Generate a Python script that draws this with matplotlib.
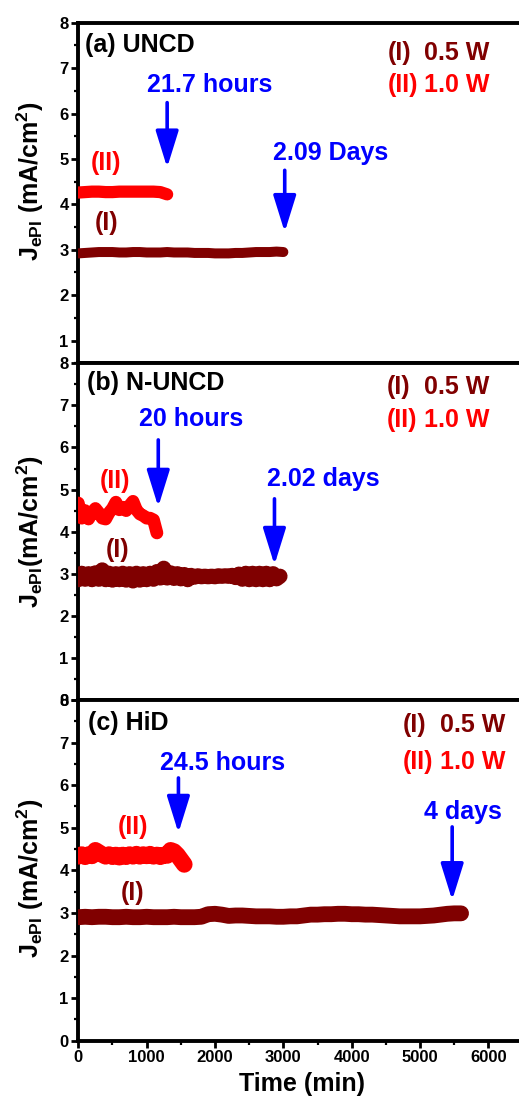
import numpy as np
import matplotlib
matplotlib.use("Agg")
import matplotlib.pyplot as plt
from matplotlib.ticker import MultipleLocator

plt.rcParams['font.family'] = ['Liberation Sans', 'DejaVu Sans']
plt.rcParams['font.weight'] = 'bold'
plt.rcParams['mathtext.fontset'] = 'custom'
plt.rcParams['mathtext.rm'] = 'Liberation Sans:bold'
plt.rcParams['mathtext.it'] = 'Liberation Sans:bold'
plt.rcParams['mathtext.bf'] = 'Liberation Sans:bold'

# ---- data: emission current density J_ePI (mA/cm^2) versus time (min) ----
# (a) UNCD
uncd_t_low = np.arange(0, 3001, 100)
uncd_j_low = [2.92, 2.93, 2.94, 2.95, 2.95, 2.95, 2.94, 2.94, 2.95, 2.95, 2.94,
              2.94, 2.94, 2.95, 2.94, 2.94, 2.94, 2.93, 2.93, 2.93, 2.92, 2.92,
              2.92, 2.93, 2.93, 2.94, 2.95, 2.95, 2.95, 2.96, 2.95]
uncd_t_high = np.arange(0, 1301, 100)
uncd_j_high = [4.26, 4.27, 4.28, 4.28, 4.27, 4.27, 4.28, 4.28, 4.28, 4.28, 4.28,
               4.28, 4.27, 4.22]

# (b) N-UNCD
nuncd_t_low = np.arange(0, 2951, 50)
nuncd_j_low = [2.86, 3.01, 2.87, 3.00, 2.86, 3.02, 2.87, 3.09, 2.86, 3.01, 2.85,
               3.00, 2.86, 3.01, 2.85, 3.00, 2.83, 3.01, 2.85, 3.00, 2.86, 3.01,
               2.87, 3.05, 2.90, 3.13, 2.90, 3.02, 2.89, 3.00, 2.88, 2.98, 2.86,
               2.96, 2.92, 2.95, 2.93, 2.94, 2.93, 2.94, 2.93, 2.95, 2.94, 2.95,
               2.94, 2.96, 2.91, 2.99, 2.87, 3.01, 2.86, 3.01, 2.86, 3.01, 2.86,
               3.01, 2.86, 3.00, 2.88, 2.94]
nuncd_t_high = np.arange(0, 1151, 50)
nuncd_j_high = [4.68, 4.32, 4.50, 4.30, 4.45, 4.55, 4.45, 4.32, 4.30, 4.45, 4.55,
                4.70, 4.52, 4.58, 4.50, 4.62, 4.72, 4.52, 4.42, 4.38, 4.32, 4.32,
                4.28, 3.97]

# (c) HiD
hid_t_low = np.arange(0, 5601, 100)
hid_j_low = [2.90, 2.91, 2.90, 2.91, 2.91, 2.90, 2.90, 2.91, 2.90, 2.90, 2.91,
             2.90, 2.90, 2.90, 2.91, 2.90, 2.90, 2.90, 2.91, 2.97, 2.98, 2.96,
             2.93, 2.94, 2.94, 2.93, 2.92, 2.92, 2.92, 2.91, 2.91, 2.92, 2.92,
             2.94, 2.96, 2.96, 2.97, 2.97, 2.98, 2.98, 2.97, 2.97, 2.96, 2.96,
             2.95, 2.94, 2.93, 2.92, 2.92, 2.92, 2.92, 2.93, 2.94, 2.96, 2.98,
             2.99, 2.99]
hid_t_high = np.arange(0, 1551, 50)
hid_j_high = [4.33, 4.37, 4.32, 4.37, 4.34, 4.47, 4.42, 4.37, 4.33, 4.37, 4.32,
              4.36, 4.31, 4.36, 4.32, 4.37, 4.33, 4.38, 4.33, 4.37, 4.34, 4.38,
              4.33, 4.36, 4.32, 4.36, 4.35, 4.47, 4.44, 4.36, 4.25, 4.14]

panel_titles = ["(a) UNCD", "(b) N-UNCD", "(c) HiD"]
ylabels = [r"J$_{ePI}$ (mA/cm$^{2}$)", r"J$_{ePI}$(mA/cm$^{2}$)",
           r"J$_{ePI}$ (mA/cm$^{2}$)"]
power_labels = ["0.5 W", "1.0 W"]
curve_tags = ["(I)", "(II)"]
lifetime_labels = [("21.7 hours", "2.09 Days"),
                   ("20 hours", "2.02 days"),
                   ("24.5 hours", "4 days")]
arrow_x = [(1300, 3020), (1170, 2870), (1465, 5470)]

series = [
    (uncd_t_low, uncd_j_low, uncd_t_high, uncd_j_high),
    (nuncd_t_low, nuncd_j_low, nuncd_t_high, nuncd_j_high),
    (hid_t_low, hid_j_low, hid_t_high, hid_j_high),
]

C_LOW = "#800000"
C_HIGH = "#ff0000"
C_ARROW = "#0000ff"

# ---- layout ----
W, H = 519, 1099
fig = plt.figure(figsize=(W / 100, H / 100), dpi=100)
left_px, right_px = 78.3, 526.0
panel_px = [(22.7, 363.3), (363.3, 700.0), (700.0, 1040.7)]
ylims = [(0.5, 8), (0, 8), (0, 8)]

# text / arrow placement in data units per panel
title_pos = [(98, 7.51), (127, 7.53), (142, 7.46)]
arrow_short = [(6.24, 4.81), (6.18, 4.59), (6.17, 4.88)]
arrow_long = [(4.75, 3.39), (4.78, 3.21), (5.02, 3.30)]
label_short = [(1928, 6.63), (1650, 6.68), (2104, 6.52)]
label_long = [(3685, 5.12), (3583, 5.25), (5633, 5.37)]
tag_high = [(406, 4.92), (537, 5.20), (801, 5.02)]
tag_low = [(420, 3.60), (574, 3.56), (794, 3.47)]
legend_x = [(4530, 5058), (4515, 5058), (4754, 5295)]
legend_y = [(7.33, 6.63), (7.44, 6.65), (7.42, 6.54)]
ylabel_y = [0.535, 0.5, 0.478]

# trace widths (points) for the low- and high-power curves in each panel
trace_lw = [(7.2, 8.8), (11.0, 9.2), (11.4, 12.0)]

axes = []
for i in range(3):
    top, bot = panel_px[i]
    ax = fig.add_axes([left_px / W, 1 - bot / H, (right_px - left_px) / W,
                       (bot - top) / H])
    axes.append(ax)
    t_lo, j_lo, t_hi, j_hi = series[i]
    lw_lo, lw_hi = trace_lw[i]
    ax.plot(t_lo, j_lo, color=C_LOW, lw=lw_lo, solid_capstyle='round',
            solid_joinstyle='round', zorder=3)
    ax.plot(t_hi, j_hi, color=C_HIGH, lw=lw_hi, solid_capstyle='round',
            solid_joinstyle='round', zorder=3)

    ax.set_xlim(0, 6550)
    ax.set_ylim(*ylims[i])
    ax.yaxis.set_major_locator(MultipleLocator(1))
    ax.yaxis.set_minor_locator(MultipleLocator(0.5))
    ax.xaxis.set_major_locator(MultipleLocator(1000))
    ax.xaxis.set_minor_locator(MultipleLocator(500))
    for sp in ax.spines.values():
        sp.set_linewidth(2.8)
    ax.tick_params(which='major', direction='out', length=5, width=2,
                   labelsize=12, pad=2)
    ax.tick_params(which='minor', direction='out', length=3, width=1.6)
    ax.tick_params(axis='both', which='both', top=False, right=False)
    if i < 2:
        ax.tick_params(axis='x', which='both', bottom=False, labelbottom=False)
    else:
        ax.set_xlabel("Time (min)", fontsize=18, fontweight='bold', labelpad=5)

    ax.set_ylabel(ylabels[i], fontsize=18, fontweight='bold')
    ax.yaxis.set_label_coords(-0.072, ylabel_y[i])

    ax.text(*title_pos[i], panel_titles[i], fontsize=18, fontweight='bold',
            color='black', ha='left', va='center')

    # lifetime arrows
    for (x, (y0, y1)) in zip(arrow_x[i], (arrow_short[i], arrow_long[i])):
        ax.annotate('', xy=(x, y1), xytext=(x, y0),
                    arrowprops=dict(arrowstyle='-|>,head_length=0.9,head_width=0.28',
                                    color=C_ARROW, lw=2.6, mutation_scale=25,
                                    shrinkA=0, shrinkB=0), zorder=4)
    s_lab, l_lab = lifetime_labels[i]
    ax.text(*label_short[i], s_lab, fontsize=18, fontweight='bold',
            color=C_ARROW, ha='center', va='center')
    ax.text(*label_long[i], l_lab, fontsize=18, fontweight='bold',
            color=C_ARROW, ha='center', va='center')

    # curve tags next to the traces
    ax.text(*tag_high[i], curve_tags[1], fontsize=18, fontweight='bold',
            color=C_HIGH, ha='center', va='center')
    ax.text(*tag_low[i], curve_tags[0], fontsize=18, fontweight='bold',
            color=C_LOW, ha='center', va='center')

    # power key in the upper right
    xt, xv = legend_x[i]
    for k, col in enumerate((C_LOW, C_HIGH)):
        ax.text(xt, legend_y[i][k], curve_tags[k], fontsize=18,
                fontweight='bold', color=col, ha='left', va='center')
        ax.text(xv, legend_y[i][k], power_labels[k], fontsize=18,
                fontweight='bold', color=col, ha='left', va='center')

fig.savefig("out.png", dpi=100)
